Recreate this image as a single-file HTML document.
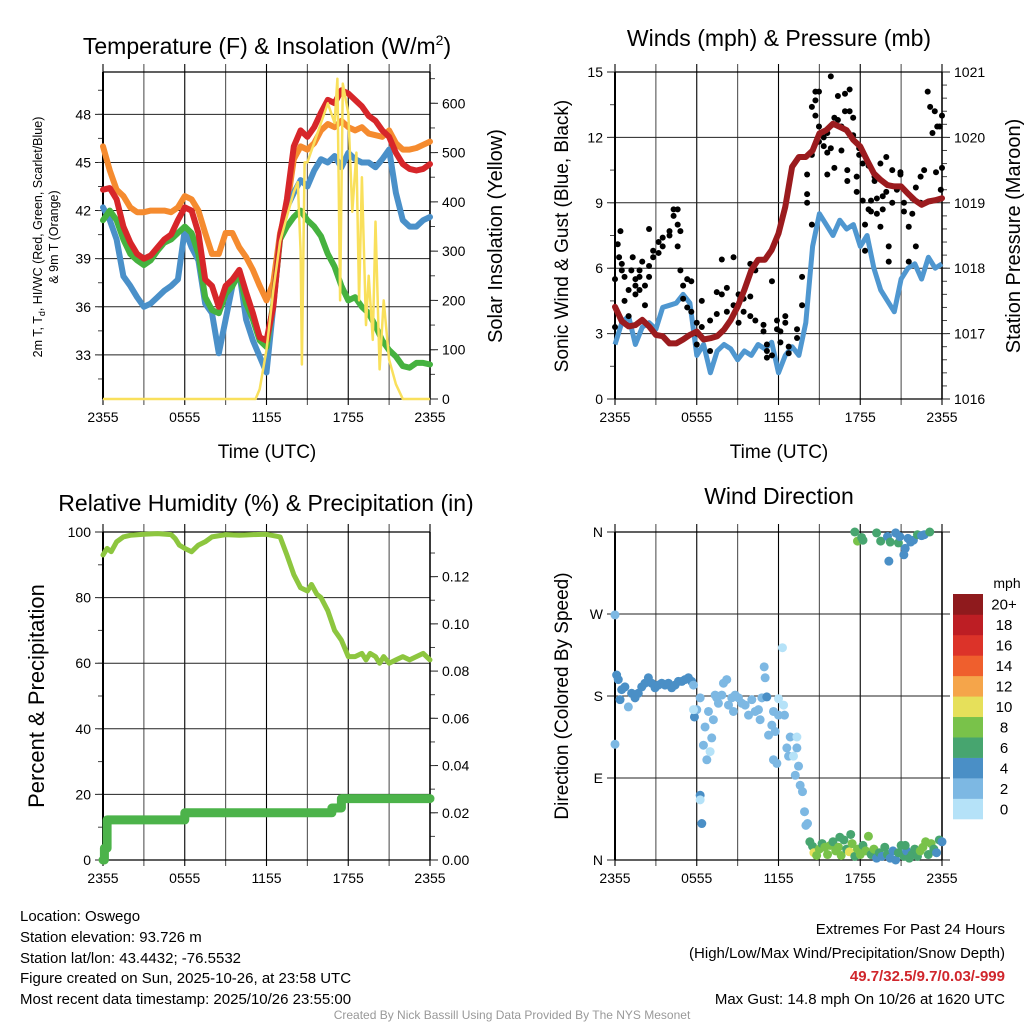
<!DOCTYPE html>
<html><head><meta charset="utf-8"><style>
html,body{margin:0;padding:0;background:#fff;}
svg{display:block;font-family:"Liberation Sans",Arial,sans-serif;}
</style></head><body>
<svg id="fig" width="1024" height="1024" viewBox="0 0 1024 1024" xmlns="http://www.w3.org/2000/svg">
<rect width="1024" height="1024" fill="#fff"/>
<g id="layer"></g>
<text x="267" y="54" font-size="23" text-anchor="middle">Temperature (F) &amp; Insolation (W/m<tspan font-size="14" dy="-9">2</tspan><tspan dy="9">)</tspan></text>
<text x="779" y="46" font-size="23" text-anchor="middle">Winds (mph) &amp; Pressure (mb)</text>
<text x="266" y="511" font-size="23" text-anchor="middle">Relative Humidity (%) &amp; Precipitation (in)</text>
<text x="779" y="504" font-size="23" text-anchor="middle">Wind Direction</text>
<text x="267" y="458" font-size="19" text-anchor="middle">Time (UTC)</text>
<text x="779" y="458" font-size="19" text-anchor="middle">Time (UTC)</text>
<text transform="translate(42,237) rotate(-90)" font-size="12.5" text-anchor="middle">2m T, T<tspan font-size="9" dy="3">d</tspan><tspan dy="-3">, HI/WC (Red, Green, Scarlet/Blue)</tspan></text>
<text transform="translate(58,237) rotate(-90)" font-size="12.5" text-anchor="middle">&amp; 9m T (Orange)</text>
<text transform="translate(502,236) rotate(-90)" font-size="20" text-anchor="middle">Solar Insolation (Yellow)</text>
<text transform="translate(568,236) rotate(-90)" font-size="19" text-anchor="middle">Sonic Wind &amp; Gust (Blue, Black)</text>
<text transform="translate(1020,236) rotate(-90)" font-size="20" text-anchor="middle">Station Pressure (Maroon)</text>
<text transform="translate(44,696) rotate(-90)" font-size="22" text-anchor="middle">Percent &amp; Precipitation</text>
<text transform="translate(568,696) rotate(-90)" font-size="19" text-anchor="middle">Direction (Colored By Speed)</text>
<g font-size="15">
<text x="20" y="921">Location: Oswego</text>
<text x="20" y="942">Station elevation: 93.726 m</text>
<text x="20" y="963">Station lat/lon: 43.4432; -76.5532</text>
<text x="20" y="983">Figure created on Sun, 2025-10-26, at 23:58 UTC</text>
<text x="20" y="1004">Most recent data timestamp: 2025/10/26 23:55:00</text>
</g>
<g font-size="15" text-anchor="end">
<text x="1005" y="934">Extremes For Past 24 Hours</text>
<text x="1005" y="958">(High/Low/Max Wind/Precipitation/Snow Depth)</text>
<text x="1005" y="981" fill="#d0262c" font-weight="bold">49.7/32.5/9.7/0.03/-999</text>
<text x="1005" y="1004">Max Gust: 14.8 mph On 10/26 at 1620 UTC</text>
</g>
<text x="512" y="1019" font-size="12" fill="#999" text-anchor="middle">Created By Nick Bassill Using Data Provided By The NYS Mesonet</text>
</svg>
<script>
const halfHours = [0,0.5,1,1.5,2,2.5,3,3.5,4,4.5,5,5.5,6,6.5,7,7.5,8,8.5,9,9.5,10,10.5,11,11.5,12,12.5,13,13.5,14,14.5,15,15.5,16,16.5,17,17.5,18,18.5,19,19.5,20,20.5,21,21.5,22,22.5,23,23.5,24];
const tempRed = [43.3,43.4,42.7,41.0,40.0,39.3,39.0,39.2,39.7,40.2,40.5,41.4,42.2,42.0,40.6,37.7,37.3,36.0,37.3,37.7,38.3,36.9,35.6,34.1,33.9,36.0,40.4,42.7,46.0,47.0,46.6,47.2,48.1,48.9,48.7,49.5,49.3,48.9,48.5,47.9,47.6,47.0,46.6,45.6,44.9,44.6,44.5,44.6,44.9];
const tempOrange = [46.0,44.5,43.3,42.9,42.2,41.9,41.9,42.0,42.0,42.0,41.9,42.2,42.9,42.7,42.0,40.6,39.3,39.3,40.6,40.6,39.7,39.1,38.3,37.3,36.4,37.5,40.6,42.2,45.2,46.0,45.8,46.2,47.0,47.4,47.2,47.6,47.2,47.0,47.2,46.8,46.7,46.6,47.0,46.2,45.8,45.8,45.9,46.1,46.3];
const tempGreen = [41.4,42.0,41.4,40.2,39.3,38.9,38.6,38.9,39.5,40.0,40.2,40.6,41.0,40.6,39.3,36.6,35.8,35.6,36.8,37.3,38.1,36.2,35.2,33.9,33.5,36.2,40.2,41.0,41.6,42.0,41.4,41.0,40.4,39.3,38.5,37.3,36.4,36.6,36.0,35.6,34.8,33.9,33.3,32.9,32.3,32.2,32.5,32.5,32.4];
const tempBlue = [42.2,41.4,40.2,37.9,37.3,36.6,36.0,36.2,36.6,37.0,37.3,37.7,40.8,39.7,38.9,36.2,35.6,33.1,35.2,37.3,38.1,35.2,33.9,32.9,31.9,36.0,40.4,42.2,43.1,43.9,43.5,44.5,45.2,45.0,45.4,44.7,45.6,45.2,45.0,45.0,44.7,45.2,45.8,43.1,41.4,41.0,41.0,41.4,41.6];
const insolHours = [0,11.2,11.5,12,12.5,13,13.5,14,14.3,14.5,14.6,14.8,15,15.5,16,16.5,17,17.2,17.4,17.6,18,18.3,18.6,18.8,19,19.3,19.5,19.8,20,20.3,20.6,21,21.5,22,24];
const insolValues = [0,0,20,100,220,320,370,420,440,300,70,480,480,520,560,600,560,650,200,640,580,380,500,200,450,150,250,120,360,60,200,80,30,0,0];
const windSpeed = [2.5,3.5,3.8,2.5,3.3,3.5,3.2,4.2,4.3,4.4,4.8,4.4,2.0,2.5,1.2,2.2,2.5,2.3,1.8,2.2,2.0,2.5,2.3,2.6,1.2,2.0,2.4,2.0,3.5,7.0,8.5,8.0,7.5,8.2,7.8,8.0,7.0,7.5,6.0,5.0,4.5,4.0,5.5,6.0,6.2,5.5,6.5,6.0,6.2];
const pressure = [1017.41,1017.19,1017.11,1017.13,1017.21,1017.11,1016.98,1016.96,1016.85,1016.85,1016.91,1016.98,1017.03,1016.91,1016.93,1016.96,1017.06,1017.21,1017.41,1017.67,1017.97,1018.13,1018.13,1018.28,1018.53,1018.94,1019.55,1019.70,1019.70,1019.80,1020.06,1020.11,1020.21,1020.16,1020.11,1019.96,1019.86,1019.65,1019.45,1019.35,1019.27,1019.25,1019.25,1019.14,1019.04,1018.97,1019.02,1019.04,1019.07];
const gustHours = [0,0,0.2,0.3,0.4,0.5,0.5,0.7,0.7,1,1,1.2,1.3,1.5,1.5,1.5,1.8,1.8,1.8,2,2.2,2.2,2.5,2.5,2.5,2.8,2.8,3.2,3.2,3.5,3.5,4,4,4.3,4.3,4.6,4.6,4.6,4.8,4.8,5,5,5.3,5.3,5.6,5.6,6,6,6,6.37,6.37,6.98,6.98,7.47,7.47,7.84,7.84,8.21,8.21,8.7,8.7,9.07,9.07,9.44,9.44,9.93,9.93,9.93,10.3,10.3,10.9,10.9,11.15,11.15,11.15,11.52,11.52,11.89,11.89,12.14,12.14,12.5,12.5,12.75,12.75,13.36,13.36,13.73,13.73,14.1,14.1,14.1,14.45,14.45,14.45,14.71,14.71,14.71,14.97,14.97,14.97,15.32,15.32,15.58,15.58,15.58,15.84,15.84,16.1,16.1,16.36,16.36,16.62,16.62,16.88,16.88,17.05,17.05,17.22,17.22,17.48,17.48,17.74,17.74,17.92,17.92,18.18,18.18,18.35,18.35,18.61,18.61,18.79,18.79,19.05,19.05,19.22,19.22,19.48,19.48,19.65,19.65,19.91,19.91,20.09,20.09,20.35,20.35,20.69,20.69,20.95,20.95,21.21,21.21,21.56,21.56,21.82,21.82,22.08,22.08,22.43,22.43,22.69,22.95,23.13,23.3,23.47,23.56,23.65,23.83,23.91,24,24];
const gustValues = [5.5,3.3,7.1,6.5,7.7,6.2,5.9,5.6,4.5,3.8,5.0,5.9,6.5,5.2,5.5,4.8,5.9,5.6,5.0,6.3,5.2,4.3,6.1,7.8,5.6,6.5,6.8,7.2,6.7,7.0,7.4,7.7,7.5,8.7,8.4,8.7,8.0,7.0,7.7,5.9,5.2,4.6,5.5,4.2,5.4,4.0,3.5,3.0,2.5,3.3,4.5,2.2,3.6,3.9,4.9,4.8,6.4,5.1,4.0,6.5,4.3,3.5,4.8,4.0,4.6,3.8,4.7,6.2,3.6,5.9,3.4,3.1,2.5,1.9,2.2,2.0,5.4,3.6,3.2,3.1,2.6,3.8,3.5,2.4,2.1,2.8,3.2,4.3,5.6,10.3,9.4,9.0,8.0,11.2,13.4,13.7,14.1,13.0,14.1,12.5,11.8,11.6,12.0,11.3,12.2,10.3,14.8,11.5,12.9,10.6,13.9,12.8,12.5,11.4,14.0,13.2,10.5,10.0,13.2,14.2,12.9,12.1,10.2,9.5,11.2,11.5,10.8,9.1,8.0,6.8,8.7,10.7,9.1,8.6,10.2,10.0,9.2,8.5,10.8,7.9,9.3,8.7,11.1,9.5,7.0,6.3,10.5,9.0,9.6,9.7,10.3,10.4,9.0,8.6,7.9,6.3,9.2,8.5,9.7,7.0,10.2,9.0,10.5,14.1,13.4,12.2,13.2,10.4,12.5,12.5,9.6,13.0,10.6];
const rhHours = [0,0.3,0.6,1,1.5,2,3,4,5,5.3,5.6,6,6.5,7,7.5,8,9,10,11,12,13,13.5,14,14.5,15,15.3,15.7,16,16.5,17,17.5,18,18.5,19,19.3,19.6,20,20.3,20.6,21,21.5,22,22.5,23,23.5,24];
const rhValues = [93,95,94,97,98.5,99,99.3,99.5,99.2,98,96,95,94,96,97,98.5,99.2,99,99.2,99.3,98.5,93,87,83,82,84,81,80,76,70,67,62,62,63,61,63,62,60,62,60,61,62,61,62,63,61];
const precipHours = [0,0.1,0.1,0.3,0.3,6.0,6.0,16.8,16.8,17.5,17.5,24];
const precipValues = [0,0,0.005,0.005,0.017,0.017,0.020,0.020,0.022,0.022,0.026,0.026];
const dirHours = [0,0,0.12,0.24,0.37,0.49,0.73,0.98,1.22,1.47,1.71,1.96,2.2,2.45,2.69,2.94,3.18,3.43,3.67,3.92,4.16,4.41,4.65,4.9,5.14,5.39,5.63,5.76,5.83,6.0,6.25,5.76,6.25,6.37,6.25,6.49,6.61,6.74,6.86,6.98,7.1,7.22,7.35,7.47,7.59,7.84,7.96,8.2,8.33,8.57,8.69,8.82,9.06,9.31,9.55,9.8,10.04,10.29,10.53,10.65,10.78,10.95,11.02,11.14,11.27,11.51,11.63,11.76,12.0,12.0,12.29,12.37,12.44,11.63,11.88,12.61,12.74,12.86,13.1,13.23,13.35,13.35,13.47,13.59,13.76,13.91,14.01,14.13,
 14.3,14.5,14.6,14.8,15,15.2,15.4,15.6,15.8,16,16.2,16.4,16.6,16.8,17,17.2,17.4,17.6,17.8,18,18.2,18.4,18.6,18.8,19,19.2,19.4,19.6,19.8,20,20.2,20.4,20.6,20.8,21,21.2,21.4,21.6,21.8,22,22.2,22.4,22.6,22.8,23,23.2,23.4,23.6,23.8,24,16.5,17.3,21.3,
 17.6,17.8,18.1,18.2,19.2,19.5,20.0,20.1,20.2,20.6,20.8,20.9,21.2,21.3,21.5,21.7,21.9,22.2,22.5,22.7,23.1];
const dirDegrees = [269,127,203,198,176,187,190,168,183,178,183,190,194,200,194,189,192,194,192,194,189,192,196,196,198,200,196,192,157,165,178,165,71,40,66,126,146,110,163,119,134,154,181,178,172,181,194,198,170,178,163,181,178,172,170,159,176,163,165,154,178,212,200,179,137,148,163,141,159,177,233,170,159,110,106,123,114,135,114,93,135,123,103,82,75,53,38,40,
 20,15,8,5,12,18,14,6,16,20,10,14,5,22,12,9,18,4,12,6,16,10,26,6,12,2,8,4,14,6,2,10,0,8,16,4,10,2,6,12,4,10,14,20,6,18,12,8,22,20,25,28,16,
 360,350,354,351,359,350,355,328,349,359,348,355,335,342,353,349,351,357,356,357,360];
const dirSpeeds = [2,2,4,4,4,4,4,2,4,4,4,4,4,4,4,4,4,4,4,4,4,4,4,4,4,4,4,2,4,2,2,0,4,4,0,2,2,2,2,0,2,2,2,2,2,2,2,2,2,2,2,2,2,2,2,2,2,2,2,2,2,2,2,4,2,2,2,2,2,0,0,0,2,2,2,2,2,2,0,2,0,2,2,2,2,2,2,2,
 6,6,10,8,8,6,8,8,8,6,8,8,8,6,6,10,8,6,8,8,6,8,8,6,8,4,6,4,6,6,4,4,4,6,6,6,4,6,6,6,6,8,8,8,6,8,6,4,6,4,6,6,6,
 6,8,6,6,6,6,4,4,6,4,6,4,4,4,4,4,4,6,4,4,6];
const tempTicks = [33,36,39,42,45,48];
const insolTicks = [0,100,200,300,400,500,600];
const windTicks = [0,3,6,9,12,15];
const pressTicks = [1016,1017,1018,1019,1020,1021];
const rhTicks = [0,20,40,60,80,100];
const precipTicks = [0,0.02,0.04,0.06,0.08,0.10,0.12];
const dirTicks = [0,90,180,270,360];
const dirLabels = ['N','E','S','W','N'];
const timeTicks = [0,6,12,18,24];
const timeLabels = ['2355','0555','1155','1755','2355'];
const speedBinLabels = ['0','2','4','6','8','10','12','14','16','18','20+'];
const speedColors = ['#b5e2f8','#7db8e3','#4a8fc6','#47a56f','#79c24a','#e6e05a','#f5a54a','#ef5f2d','#dc3329','#bd1e24','#8f1a1d'];

const NS='http://www.w3.org/2000/svg';
const layer=document.getElementById('layer');
function mk(tag,attrs,parent){const e=document.createElementNS(NS,tag);for(const k in attrs)e.setAttribute(k,attrs[k]);(parent||layer).appendChild(e);return e;}
function lin(d0,d1,r0,r1){return v=>r0+(v-d0)/(d1-d0)*(r1-r0);}
function path(xs,ys,fx,fy){let d='',pen=false;for(let i=0;i<xs.length;i++){if(ys[i]==null){pen=false;continue;}d+=(pen?'L':'M')+fx(xs[i]).toFixed(1)+' '+fy(ys[i]).toFixed(1);pen=true;}return d;}

const P1={l:103,r:430,t:72,b:399}, P2={l:615,r:942,t:72,b:399}, P3={l:103,r:430,t:532,b:860}, P4={l:615,r:942,t:532,b:860};

function frame(P,name,leftTicks,leftFmt,leftMinor,fy,rightTicks,rightFmt,rightMinor,gy,leftLabels){
  const g=mk('g',{});
  
  
  const fx=lin(0,24,P.l,P.r);
  for(let h=0;h<=24;h+=3){const x=fx(h);mk('line',{x1:x,x2:x,y1:P.t-8,y2:P.b+6,stroke:(h%6==0)?'#000':'#555','stroke-width':1.1},g);}
  leftTicks.forEach((v,i)=>{const y=fy(v);mk('line',{x1:P.l-8,x2:P.r+(gy?0:8),y1:y,y2:y,stroke:'#222','stroke-width':1},g);
    const t=mk('text',{x:P.l-12,y:y+5,'font-size':14,'text-anchor':'end'},g);t.textContent=leftLabels?leftLabels[i]:leftFmt(v);});
  leftMinor.forEach(v=>{const y=fy(v);mk('line',{x1:P.l-5,x2:P.l,y1:y,y2:y,stroke:'#444','stroke-width':1},g);});
  if(gy){rightTicks.forEach(v=>{const y=gy(v);mk('line',{x1:P.r,x2:P.r+8,y1:y,y2:y,stroke:'#222','stroke-width':1},g);
    const t=mk('text',{x:P.r+12,y:y+5,'font-size':14},g);t.textContent=rightFmt(v);});
    rightMinor.forEach(v=>{const y=gy(v);mk('line',{x1:P.r,x2:P.r+5,y1:y,y2:y,stroke:'#444','stroke-width':1},g);});}
  mk('line',{x1:P.l,x2:P.r,y1:P.t,y2:P.t,stroke:'#000','stroke-width':1.2},g);
  mk('line',{x1:P.l,x2:P.r,y1:P.b,y2:P.b,stroke:'#000','stroke-width':1.2},g);
  mk('line',{x1:P.l,x2:P.l,y1:P.t,y2:P.b,stroke:'#000','stroke-width':2},g);
  mk('line',{x1:P.r,x2:P.r,y1:P.t,y2:P.b,stroke:'#000','stroke-width':1.5},g);
  timeTicks.forEach((h,i)=>{const t=mk('text',{x:fx(h),y:P.b+23,'font-size':14,'text-anchor':'middle'},g);t.textContent=timeLabels[i];});
  return fx;
}
function range(a,b,s){const r=[];for(let v=a;v<=b+1e-9;v+=s)r.push(+v.toFixed(4));return r;}

const t1=lin(30.25,50.64,P1.b,P1.t), i1=lin(0,663.5,P1.b,P1.t);
const fx1=frame(P1,'temperature',tempTicks,v=>v,range(31.5,49.5,1.5),t1,insolTicks,v=>v,range(50,650,50),i1);
[['#f58b2f',tempOrange,'orange-9m-temp-line'],['#4a90c9',tempBlue,'dewpoint-line'],['#45b23f',tempGreen,'heat-index-line'],['#d7262a',tempRed,'2m-temp-line']].forEach(s=>{
  const p=mk('path',{d:path(halfHours,s[1],fx1,t1),fill:'none',stroke:s[0],'stroke-width':6,'stroke-linejoin':'round','stroke-linecap':'round'});
  
  
});
const ins=mk('path',{d:path(insolHours,insolValues,fx1,i1),fill:'none',stroke:'#f9e05c','stroke-width':2.5,'stroke-linejoin':'round'});



const w2=lin(0,15,P2.b,P2.t), p2=lin(1016,1021,P2.b,P2.t);
const fx2=frame(P2,'winds',windTicks,v=>v,range(1.5,13.5,1.5),w2,pressTicks,v=>v,range(1016.2,1020.8,0.2),p2);
const wl=mk('path',{d:path(halfHours,windSpeed,fx2,w2),fill:'none',stroke:'#4f97d0','stroke-width':5,'stroke-linejoin':'round'});


gustHours.forEach((h,i)=>{const c=mk('circle',{cx:fx2(h),cy:w2(gustValues[i]),r:3,fill:'#000'});
  
  });
const pl=mk('path',{d:path(halfHours,pressure,fx2,p2),fill:'none',stroke:'#9b1b1e','stroke-width':6,'stroke-linejoin':'round','stroke-linecap':'round'});



const r3=lin(0,100,P3.b,P3.t), q3=lin(0,0.1389,P3.b,P3.t);
const fx3=frame(P3,'humidity',rhTicks,v=>v,range(10,90,10),r3,precipTicks,v=>v.toFixed(2),range(0.01,0.13,0.01),q3);
const rl=mk('path',{d:path(rhHours,rhValues,fx3,r3),fill:'none',stroke:'#8dc63f','stroke-width':5,'stroke-linejoin':'round','stroke-linecap':'round'});


const ql=mk('path',{d:path(precipHours,precipValues,fx3,q3),fill:'none',stroke:'#4cb34a','stroke-width':9,'stroke-linejoin':'round','stroke-linecap':'round'});



const d4=lin(0,360,P4.b,P4.t);
const fx4=frame(P4,'wind-direction',dirTicks,v=>v,[],d4,[],null,[],null,dirLabels);
dirHours.forEach((h,i)=>{const b=Math.min(10,Math.round(dirSpeeds[i]/2));
  const c=mk('circle',{cx:fx4(h),cy:d4(dirDegrees[i]),r:4.5,fill:speedColors[b]});
  
  });
const cb=mk('g',{});


const cbTop=594, cbH=225/11;
speedColors.forEach((c,i)=>{const y=cbTop+(10-i)*cbH;mk('rect',{x:953,y:y,width:30,height:cbH+0.3,fill:c},cb);
  const t=mk('text',{x:1004,y:y+cbH/2+5.5,'font-size':15,'text-anchor':'middle'},cb);t.textContent=speedBinLabels[i];});
const mt=mk('text',{x:1007,y:588,'font-size':14,'text-anchor':'middle'},cb);mt.textContent='mph';
</script>
</body></html>
